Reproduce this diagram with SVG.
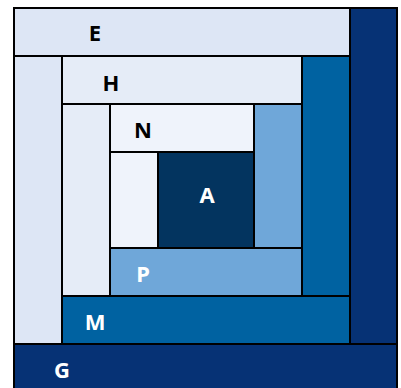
<svg xmlns="http://www.w3.org/2000/svg" width="401" height="388" viewBox="0 0 401 388">
<style>
.c{stroke:#000;stroke-width:2}
.e{fill:#dde6f5}.h{fill:#e5ecf7}.n{fill:#eff3fb}.a{fill:#03345f}.p{fill:#6fa7d9}.m{fill:#0062a1}.g{fill:#063275}
text{font-family:"Noto Sans","Liberation Sans",sans-serif;font-weight:700;font-size:22px;text-anchor:middle}
.dk{fill:#000}.lt{fill:#fff}
</style>
<rect x="0" y="0" width="401" height="388" style="fill:#fff;stroke:none"/>
<g id="node-G">
<rect class="c g" x="350" y="8" width="47" height="336"/>
<rect class="c g" x="14" y="344" width="383" height="48"/>
<text class="lt" x="62" y="378">G</text>
</g>
<g id="node-E">
<rect class="c e" x="14" y="8" width="336" height="48"/>
<rect class="c e" x="14" y="56" width="48" height="288"/>
<text class="dk" x="95" y="41">E</text>
</g>
<g id="node-M">
<rect class="c m" x="302" y="56" width="48" height="240"/>
<rect class="c m" x="62" y="296" width="288" height="48"/>
<text class="lt" x="95" y="330">M</text>
</g>
<g id="node-H">
<rect class="c h" x="62" y="56" width="240" height="48"/>
<rect class="c h" x="62" y="104" width="48" height="192"/>
<text class="dk" x="111" y="91">H</text>
</g>
<g id="node-P">
<rect class="c p" x="254" y="104" width="48" height="144"/>
<rect class="c p" x="110" y="248" width="192" height="48"/>
<text class="lt" x="143" y="282">P</text>
</g>
<g id="node-N">
<rect class="c n" x="110" y="104" width="144" height="48"/>
<rect class="c n" x="110" y="152" width="48" height="96"/>
<text class="dk" x="143" y="138">N</text>
</g>
<g id="node-A">
<rect class="c a" x="158" y="152" width="96" height="96"/>
<text class="lt" x="207" y="203">A</text>
</g>
<g id="connectors"></g>
</svg>
